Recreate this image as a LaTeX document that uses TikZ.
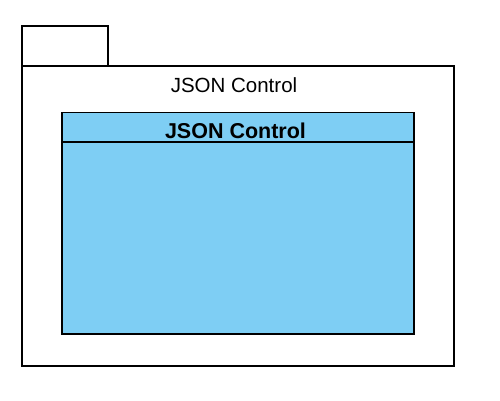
\documentclass[tikz,border=0pt]{standalone}
\usepackage{fontspec}
\setmainfont{Liberation Sans}
\definecolor{classblue}{HTML}{7ECEF4}
\begin{document}
\begin{tikzpicture}[x=1pt,y=-1pt,
  outline/.style={draw=black,line width=1.5pt},
  lbl/.style={inner sep=0pt,anchor=base,font=\fontsize{20.5}{24}\selectfont}]
\useasboundingbox (0,0) rectangle (500,400);
\path[outline,fill=white] (22,26) rectangle (108,66);
\path[outline,fill=white] (22,66) rectangle (454,366);
\node[lbl] (pkglabel) at (234,92) {JSON Control};
\path[outline,fill=classblue] (62,112.5) rectangle (414,334);
\draw[line width=1.5pt] (62,142) -- (414,142);
\node[lbl,font=\fontsize{21.5}{25}\selectfont\bfseries] (classlabel) at (235.5,138.5) {JSON Control};
\end{tikzpicture}
\end{document}
